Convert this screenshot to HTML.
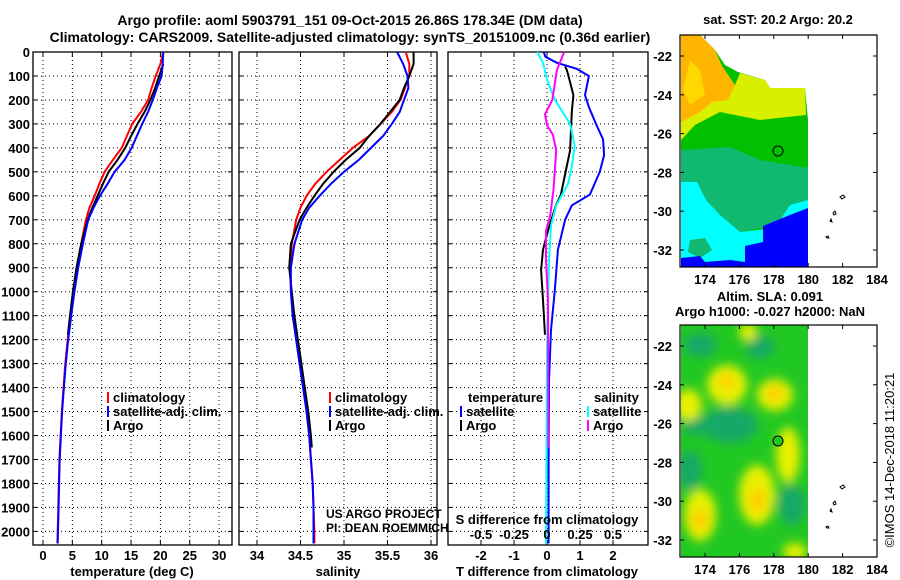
<!DOCTYPE html>
<html><head><meta charset="utf-8"><style>
html,body{margin:0;padding:0;background:#fff;}
svg{display:block;font-family:"Liberation Sans",sans-serif;}
.b{font-weight:bold;font-size:13px;}
</style></head><body>
<svg id="c" width="900" height="580" viewBox="0 0 900 580" xmlns="http://www.w3.org/2000/svg">
<defs>
<filter id="bl" x="-20%" y="-20%" width="140%" height="140%"><feGaussianBlur stdDeviation="5"/></filter>
<clipPath id="m2c"><rect x="681" y="325" width="127" height="232"/></clipPath>
</defs>
<text x="350" y="25" text-anchor="middle" class="b" style="font-size:14px">Argo profile: aoml 5903791_151 09-Oct-2015 26.86S 178.34E (DM data)</text>
<text x="350" y="42" text-anchor="middle" class="b" style="font-size:14px">Climatology: CARS2009. Satellite-adjusted climatology: synTS_20151009.nc (0.36d earlier)</text>
<g id="layer"></g>
</svg>
<script>
// ---- data ----
const depthsT = [0,50,100,150,200,250,300,350,400,450,500,550,600,650,700,800,900,1000,1100,1200,1300,1400,1500,1600,1700,1800,1900,2000,2050];
const climT = [20.5,20.0,19.2,18.5,17.9,16.7,15.2,14.3,13.4,11.9,10.5,9.6,8.8,7.9,7.3,6.5,5.8,5.2,4.7,4.2,3.8,3.5,3.2,3.0,2.8,2.7,2.6,2.5,2.45];
const satT = [20.5,20.4,20.2,19.4,18.7,17.9,16.9,16.0,15.1,13.9,12.2,11.0,9.7,8.6,7.7,6.8,6.0,5.35,4.8,4.3,3.88,3.56,3.25,3.05,2.85,2.75,2.65,2.55,2.5];
const depthsArgoT = [50,100,150,200,250,300,350,400,450,500,550,600,650,700,800,900,1000,1100,1180];
const argoT = [20.5,19.8,19.1,18.3,17.3,16.1,15.0,14.0,12.7,11.2,10.2,9.3,8.4,7.6,6.5,5.7,5.1,4.6,4.25];
const depthsS = depthsT;
const climS = [35.71,35.75,35.75,35.7,35.65,35.55,35.42,35.29,35.1,34.95,34.8,34.67,34.57,34.5,34.45,34.4,34.38,34.39,34.41,34.45,34.49,34.53,34.57,34.6,34.62,34.64,34.65,34.66,34.66];
const satS = [35.61,35.68,35.73,35.74,35.69,35.64,35.55,35.45,35.31,35.17,35.0,34.85,34.72,34.6,34.52,34.43,34.39,34.39,34.41,34.45,34.49,34.53,34.57,34.6,34.62,34.64,34.65,34.65,34.65];
const depthsArgoS = [0,50,100,150,200,250,300,350,400,450,500,550,600,650,700,800,900,1000,1100,1200,1300,1400,1500,1600,1650];
const argoS = [35.8,35.8,35.75,35.69,35.64,35.53,35.42,35.29,35.18,35.02,34.88,34.76,34.66,34.57,34.49,34.39,34.37,34.4,34.43,34.47,34.51,34.55,34.59,34.62,34.63];
const dDepthSatT = [0,20,45,70,100,180,230,305,365,430,500,595,640,700,825,990,1160,1370,1700,2050];
const dSatT = [-0.1,-0.05,0.3,0.9,1.27,1.15,1.27,1.5,1.7,1.73,1.6,1.3,0.75,0.55,0.33,0.24,0.12,0.06,0.05,0.05];
const dDepthArgoT = [60,75,100,180,250,410,490,595,640,745,825,910,1035,1180];
const dArgoT = [0.55,0.6,0.65,0.8,0.75,0.7,0.58,0.42,0.27,0.03,-0.12,-0.18,-0.12,-0.06];
const dDepthSatS = [0,45,115,200,300,390,470,550,640,725,870,1035,1240,2050];
const dSatS = [-0.15,-0.06,0,0.12,0.35,0.42,0.38,0.32,0.14,0.06,0.03,0.015,0,-0.015];
const dDepthArgoS = [0,75,200,260,305,345,410,570,680,745,870,1035,1650];
const dArgoS = [0.26,0.15,0.08,-0.03,0,0.09,0.14,0.1,0.05,-0.015,-0.015,0.015,0.02];
const tTicks = [0,5,10,15,20,25,30];
const sTicks = [34,34.5,35,35.5,36];
const dTTicks = [-2,-1,0,1,2];
const dSTickLabels = ["-0.5","-0.25","0","0.25","0.5"];
const depthTicks = [0,100,200,300,400,500,600,700,800,900,1000,1100,1200,1300,1400,1500,1600,1700,1800,1900,2000];
const latTicks = [-22,-24,-26,-28,-30,-32];
const lonTicks = [174,176,178,180,182,184];

const NS="http://www.w3.org/2000/svg";
const L=document.getElementById('layer');
function mk(tag,attrs,parent){const e=document.createElementNS(NS,tag);for(const k in attrs)e.setAttribute(k,attrs[k]);(parent||L).appendChild(e);return e;}
function txt(x,y,s,anchor,cls,parent){const t=mk('text',{x:x,y:y,'text-anchor':anchor||'start','class':cls||'b'},parent);t.textContent=s;return t;}

const TOP=52, BOT=545;
const yD = d => TOP + d*0.2397;
const xT = v => 43 + v*5.87;
const xS = v => 257 + (v-34)*87;
const xdT = v => 547 + v*33;
const xdS = v => 547 + v*66;

function frame(x0,x1,name,xt,xf){
  const g=mk('g',{});
  
  
  depthTicks.forEach(d=>{const y=yD(d); if(d>0) mk('line',{x1:x0,x2:x1,y1:y,y2:y,stroke:'#000','stroke-dasharray':'1,3','stroke-width':1},g);
    mk('line',{x1:x0,x2:x0+4,y1:y,y2:y,stroke:'#000'},g); mk('line',{x1:x1-4,x2:x1,y1:y,y2:y,stroke:'#000'},g);});
  xt.forEach(v=>{const x=xf(v); mk('line',{x1:x,x2:x,y1:TOP,y2:BOT,stroke:'#000','stroke-dasharray':'1,3'},g);
    mk('line',{x1:x,x2:x,y1:TOP,y2:TOP+5,stroke:'#000'},g); mk('line',{x1:x,x2:x,y1:BOT-5,y2:BOT,stroke:'#000'},g);});
  mk('rect',{x:x0,y:TOP,width:x1-x0,height:BOT-TOP,fill:'none',stroke:'#000','stroke-width':1.3},g);
  return g;
}
function line(ds,vs,xf,color,name,w){
  let p=ds.map((d,i)=>(i?'L':'M')+xf(vs[i]).toFixed(1)+','+yD(d).toFixed(1)).join('');
  const e=mk('path',{d:p,fill:'none',stroke:color,'stroke-width':w||2});
  
  
}
depthTicks.forEach(d=>{const t=txt(30,yD(d)+5,String(d),'end');
  
  });

// panel 1
frame(33,232,'temperature-panel',tTicks,xT);
line(depthsT,climT,xT,'#ff0000','clim-temperature-line');
line(depthsArgoT,argoT,xT,'#000','argo-temperature-line');
line(depthsT,satT,xT,'#0000ff','sat-temperature-line');
tTicks.forEach(v=>{const t=txt(xT(v),560,String(v),'middle');});
txt(132,576,'temperature (deg C)','middle');

// panel 2
frame(239,437,'salinity-panel',sTicks,xS);
line(depthsS,climS,xS,'#ff0000','clim-salinity-line');
line(depthsArgoS,argoS,xS,'#000','argo-salinity-line');
line(depthsS,satS,xS,'#0000ff','sat-salinity-line');
sTicks.forEach(v=>{const t=txt(xS(v),560,String(v),'middle');});
txt(338,576,'salinity','middle');
const pr=txt(326,518,'US ARGO PROJECT','start','');pr.setAttribute('style','font-size:12px');
const pi=txt(326,532,'PI: DEAN ROEMMICH','start','');pi.setAttribute('style','font-size:12px');

function leg(x,y,color,label,name){const g=mk('g',{});
  mk('rect',{x:x,y:y-10,width:2,height:11,fill:color},g);txt(x+6,y,label,'start','b',g);}
[107,329].forEach(x=>{
  leg(x,402,'#ff0000','climatology','legend-climatology');
  leg(x,416,'#0000ff','satellite-adj. clim.','legend-satellite-adj');
  leg(x,430,'#000','Argo','legend-argo');
});

// panel 3
frame(448,648,'difference-panel',dTTicks,xdT);
line(dDepthSatT,dSatT,xdT,'#0000ff','sat-temperature-diff-line');
line(dDepthArgoT,dArgoT,xdT,'#000','argo-temperature-diff-line');
line(dDepthSatS,dSatS,xdS,'#00ffff','sat-salinity-diff-line');
line(dDepthArgoS,dArgoS,xdS,'#ff00ff','argo-salinity-diff-line');
txt(468,402,'temperature');
leg(460,416,'#0000ff','satellite','legend-temp-satellite');
leg(460,430,'#000','Argo','legend-temp-argo');
txt(594,402,'salinity');
leg(587,416,'#00ffff','satellite','legend-sal-satellite');
leg(587,430,'#ff00ff','Argo','legend-sal-argo');
txt(547,524,'S difference from climatology','middle');
dTTicks.forEach((v,i)=>{const t=txt(xdT(v),539,dSTickLabels[i],'middle');
  const u=txt(xdT(v),560,String(v),'middle');});
txt(547,576,'T difference from climatology','middle');

// maps
const lonX = l => 705 + (l-174)*17.2;
function mapAxes(y0,y1,latY,name){
  const g=mk('g',{});
  mk('rect',{x:680,y:y0,width:197,height:y1-y0,fill:'none',stroke:'#000','stroke-width':1.2},g);
  latTicks.forEach(a=>{const y=latY(a);txt(672,y+5,String(a),'end','b',g);
    mk('line',{x1:680,x2:684,y1:y,y2:y,stroke:'#000'},g);mk('line',{x1:873,x2:877,y1:y,y2:y,stroke:'#000'},g);});
  lonTicks.forEach(l=>{const x=lonX(l);txt(x,y1+17,String(l),'middle','b',g);
    mk('line',{x1:x,x2:x,y1:y0,y2:y0+4,stroke:'#000'},g);mk('line',{x1:x,x2:x,y1:y1-4,y2:y1,stroke:'#000'},g);});
  ['M840,197l3,-2l2,2l-3,2z','M833,213l2,-2l1,3l-2,1z M830,221l1,-2l1,3z M826,237l2,-1l1,2l-2,0z'].forEach(p=>{
    mk('path',{d:p,fill:'none',stroke:'#000','stroke-width':1,transform:'translate(0,'+(y0-35)+')'},g);});
}
const m1=mk('g',{});
const polys1=[
 ['#00c000','681,35 700,35 715,50 725,65 738,72 765,80 770,88 805,88 808,120 808,267 681,267'],
 ['#d8f000','681,95 735,85 740,73 765,80 770,88 805,88 806,115 760,120 720,112 695,125 681,140'],
 ['#ffb400','681,35 700,35 715,50 722,66 735,85 728,100 712,102 700,112 681,122'],
 ['#ffd800','690,60 700,70 705,95 690,105 683,90'],
 ['#10b870','681,150 730,147 760,160 808,168 808,200 790,210 775,225 740,232 700,225 681,215'],
 ['#00ffff','681,182 697,182 706,200 720,215 740,232 775,228 790,205 808,200 808,267 681,267'],
 ['#10b870','690,240 705,238 712,250 700,258 688,252'],
 ['#0000ff','763,226 790,215 808,208 808,267 745,267 745,246 763,242'],
 ['#0000ff','681,258 700,256 705,262 730,260 745,262 745,267 681,267']
];
polys1.forEach(p=>mk('polygon',{points:p[1],fill:p[0]},m1));
mk('circle',{cx:778,cy:151,r:5,fill:'none',stroke:'#000','stroke-width':1},m1);
mapAxes(35,267,a=>56+(-22-a)*19.4,'sst-map-axes');
txt(778,24,'sat. SST: 20.2 Argo: 20.2','middle');

const m2=mk('g',{'clip-path':'url(#m2c)'});
mk('rect',{x:681,y:325,width:127,height:232,fill:'#22c822'},m2);
const bg=mk('g',{filter:'url(#bl)'},m2);
[['#18a868',760,347,14,12],['#18a868',700,345,16,12],['#18a868',730,425,28,18],['#18a868',690,470,12,20],['#18a868',792,505,14,20],['#18a868',695,425,12,10],
 ['#e8f000',727,385,20,20],['#e8f000',775,395,18,16],['#e8f000',688,405,14,16],['#e8f000',788,455,12,28],['#e8f000',757,495,18,30],['#e8f000',700,515,16,26],['#e8f000',748,332,9,9],['#e8f000',795,552,12,9],
 ['#ffcc00',727,382,8,7],['#ffcc00',775,393,8,8],['#ffcc00',758,500,8,12],['#ffcc00',700,520,8,10]
].forEach(e=>mk('ellipse',{fill:e[0],cx:e[1],cy:e[2],rx:e[3],ry:e[4]},bg));
mk('circle',{cx:778,cy:441,r:5,fill:'#22c822',stroke:'#000','stroke-width':1},L);
mapAxes(325,557,a=>346+(-22-a)*19.4,'sla-map-axes');
txt(770,301,'Altim. SLA: 0.091','middle');
txt(770,316,'Argo h1000: -0.027 h2000: NaN','middle');
const cp=txt(0,0,'©IMOS 14-Dec-2018 11:20:21','middle','');
cp.setAttribute('style','font-size:13px;font-weight:normal');
cp.setAttribute('transform','translate(894,460) rotate(-90)');


</script>
</body></html>
